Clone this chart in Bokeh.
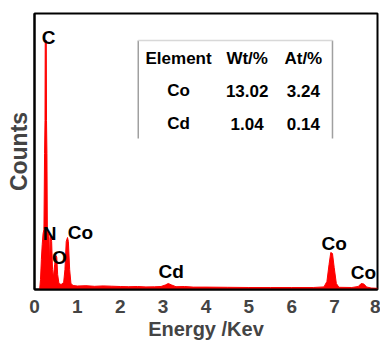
from bokeh.plotting import figure
from bokeh.models import Range1d, ColumnDataSource
from bokeh.core.properties import value
from bokeh.embed import file_html
from bokeh.resources import INLINE

# Spectrum (energy keV, counts a.u.)
energy = [0.00, 0.12, 0.14, 0.16, 0.18, 0.20, 0.22, 0.235, 0.245, 0.25, 0.275, 0.28, 0.29, 0.30,
          0.32, 0.34, 0.35, 0.36, 0.37, 0.385, 0.40, 0.42, 0.44, 0.47, 0.50, 0.52, 0.54, 0.57,
          0.62, 0.68, 0.71, 0.74, 0.77, 0.79, 0.82, 0.85, 0.90, 1.0, 1.2, 1.4, 1.6, 1.8, 2.0,
          2.2, 2.4, 2.6, 2.8, 2.95, 3.05, 3.12, 3.2, 3.3, 3.5, 3.7, 4.0, 4.5, 5.0, 5.5, 6.0,
          6.5, 6.75, 6.82, 6.87, 6.91, 6.95, 6.99, 7.04, 7.1, 7.4, 7.55, 7.62, 7.68, 7.75,
          7.85, 8.0]
counts = [0, 0, 100, 300, 450, 560, 600, 1360, 1690, 2490, 2490, 1690, 1360, 580,
          560, 520, 300, 350, 540, 520, 480, 200, 120, 250, 340, 320, 150, 60,
          50, 70, 200, 480, 520, 480, 200, 60, 40, 35, 38, 32, 36, 33, 30,
          28, 30, 26, 27, 30, 45, 60, 45, 28, 30, 24, 24, 22, 20, 20, 20,
          20, 26, 80, 250, 370, 360, 220, 60, 22, 20, 30, 60, 55, 25,
          15, 12]

peak_names = ["C", "N", "Co", "O", "Cd", "Co", "Co"]
peak_x = [0.33, 0.35, 1.07, 0.58, 3.19, 6.99, 7.67]
peak_y = [2520, 560, 570, 320, 180, 460, 170]

table_header = ["Element", "Wt/%", "At/%"]
table_elements = ["Co", "Cd"]
table_wt = ["13.02", "1.04"]
table_at = ["3.24", "0.14"]

FONT = value("Liberation Sans")

p = figure(width=380, height=342, output_backend="svg", toolbar_location=None,
           x_range=Range1d(0, 8), y_range=Range1d(0, 2760),
           min_border_left=34, min_border_right=3, min_border_top=13, min_border_bottom=53)
p.background_fill_color = "white"
p.border_fill_color = "white"
p.grid.visible = False
p.outline_line_color = "black"
p.outline_line_width = 2

p.varea(x=energy, y1=0, y2=counts, fill_color="#ff0000")
p.line(x=energy, y=counts, line_color="#ff0000", line_width=1)

src = ColumnDataSource(dict(x=peak_x, y=peak_y, t=peak_names))
p.text(x="x", y="y", text="t", source=src, text_font=FONT, text_font_style="bold",
       text_font_size="19px", text_align="center", text_baseline="middle", text_color="black")

# inset table
col_x = [3.36, 4.96, 6.27]
row_y = [2310, 1990, 1660]
tx, ty, tt = [], [], []
for i, h in enumerate(table_header):
    tx.append(col_x[i]); ty.append(row_y[0]); tt.append(h)
for r in range(2):
    for i, v in enumerate([table_elements[r], table_wt[r], table_at[r]]):
        tx.append(col_x[i]); ty.append(row_y[r + 1]); tt.append(v)
tsrc = ColumnDataSource(dict(x=tx, y=ty, t=tt))
p.text(x="x", y="y", text="t", source=tsrc, text_font=FONT, text_font_style="bold",
       text_font_size="17px", text_align="center", text_baseline="middle", text_color="black")
p.multi_line(xs=[[2.42, 2.42], [6.95, 6.95]], ys=[[2490, 1510], [2490, 1510]],
             line_color="#a0a0a0", line_width=1.5)
p.line(x=[2.42, 6.95], y=[2490, 2490], line_color="#d8d8d8", line_width=1.5)

xa = p.xaxis[0]
xa.ticker = [0, 1, 2, 3, 4, 5, 6, 7, 8]
xa.axis_label = "Energy /Kev"
xa.axis_label_text_font = "Liberation Sans"
xa.axis_label_text_font_style = "bold"
xa.axis_label_text_font_size = "20px"
xa.axis_label_standoff = 2
xa.major_label_text_font = "Liberation Sans"
xa.major_label_text_font_style = "bold"
xa.major_label_text_font_size = "19px"
xa.major_label_standoff = 4
xa.major_tick_line_color = None
xa.minor_tick_line_color = None
xa.axis_line_width = 2

ya = p.yaxis[0]
ya.ticker = []
ya.axis_label = "Counts"
ya.axis_label_text_font = "Liberation Sans"
ya.axis_label_text_font_style = "bold"
ya.axis_label_text_font_size = "23px"
ya.axis_label_standoff = 3
ya.major_tick_line_color = None
ya.minor_tick_line_color = None
ya.major_label_text_font_size = "0px"
ya.axis_line_width = 2

open("out.html", "w").write(file_html(p, INLINE))
